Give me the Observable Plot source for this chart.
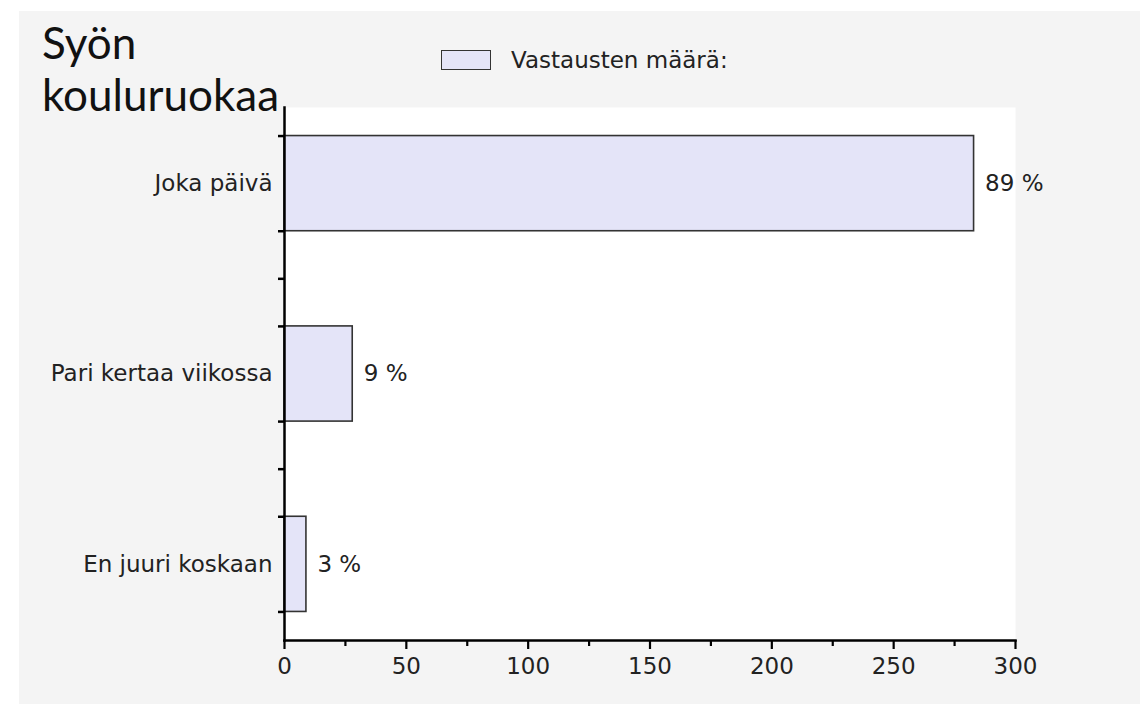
<!DOCTYPE html>
<html>
<head>
<meta charset="utf-8">
<script src="https://cdn.jsdelivr.net/npm/d3@7"></script>
<script src="https://cdn.jsdelivr.net/npm/@observablehq/plot@0.6"></script>
<style>
  html, body { margin: 0; padding: 0; background: #ffffff; }
  #wrap { position: absolute; left: 19px; top: 11px; width: 1121px; height: 693px; background: #f4f4f4; overflow: hidden; }
  #chart { position: absolute; left: 0; top: 0; }
  #title { position: absolute; left: 23px; top: 5px; font-family: Lato, "Open Sans", sans-serif; font-size: 44px; line-height: 52px; color: #111; z-index: 2; }
  #legend { position: absolute; left: 422px; top: 36px; display: flex; align-items: center; font-family: "DejaVu Sans", sans-serif; font-size: 23px; color: #222; }
  #legend .sw { width: 48px; height: 18px; background: #e4e4f8; border: 1.5px solid #333; margin-right: 20px; }
</style>
</head>
<body>
<div id="wrap">
  <div id="title"></div>
  <div id="legend"><div class="sw"></div><span id="legendText"></span></div>
  <div id="chart"></div>
</div>
<script>
const titleLines = ["Syön", "kouluruokaa"];
const legendLabel = "Vastausten määrä:";
const categories = ["Joka päivä", "Pari kertaa viikossa", "En juuri koskaan"];
const counts = [283, 28, 9];
const percentLabels = ["89 %", "9 %", "3 %"];
const xTicks = [0, 50, 100, 150, 200, 250, 300];
const xMinorTicks = [25, 75, 125, 175, 225, 275];
const yEdgeTicks = [-0.25, 0.25, 0.5, 0.75, 1.25, 1.5, 1.75, 2.25];

document.getElementById("title").innerHTML = titleLines.join("<br>");
document.getElementById("legendText").textContent = legendLabel;

const data = categories.map((c, i) => ({cat: c, i, count: counts[i], label: percentLabels[i]}));

const chart = Plot.plot({
  width: 1121,
  height: 693,
  marginLeft: 265,
  marginRight: 125,
  marginTop: 96,
  marginBottom: 64,
  style: {background: "transparent", fontFamily: "DejaVu Sans, sans-serif", fontSize: "23px", color: "#222"},
  x: {domain: [0, 300]},
  y: {domain: [2.4, -0.4]},
  marks: [
    Plot.frame({fill: "white", stroke: null}),
    Plot.rectX(data, {x1: 0, x2: "count", y1: d => d.i - 0.25, y2: d => d.i + 0.25, fill: "#e4e4f8", stroke: "#333", strokeWidth: 1.6}),
    Plot.text(data, {x: "count", y: "i", text: "label", textAnchor: "start", dx: 11, fontSize: 23, fill: "#222"}),
    Plot.axisX({ticks: xTicks, tickSize: 9, tickPadding: 8, strokeWidth: 2.2, stroke: "#000", fontSize: 23, fill: "#222", label: null}),
    Plot.axisX({ticks: xMinorTicks, tickSize: 6, tickFormat: () => "", strokeWidth: 2.2, stroke: "#000", label: null}),
    Plot.axisY({ticks: yEdgeTicks, tickSize: 6, tickFormat: () => "", strokeWidth: 2.5, stroke: "#000", label: null}),
    Plot.axisY({ticks: [0, 1, 2], tickSize: 0, tickPadding: 12, tickFormat: i => categories[i], fontSize: 23, fill: "#222", label: null}),
    Plot.frame({anchor: "left", stroke: "#000", strokeWidth: 2.5}),
    Plot.frame({anchor: "bottom", stroke: "#000", strokeWidth: 2.5})
  ]
});
document.getElementById("chart").appendChild(chart);
</script>
</body>
</html>
